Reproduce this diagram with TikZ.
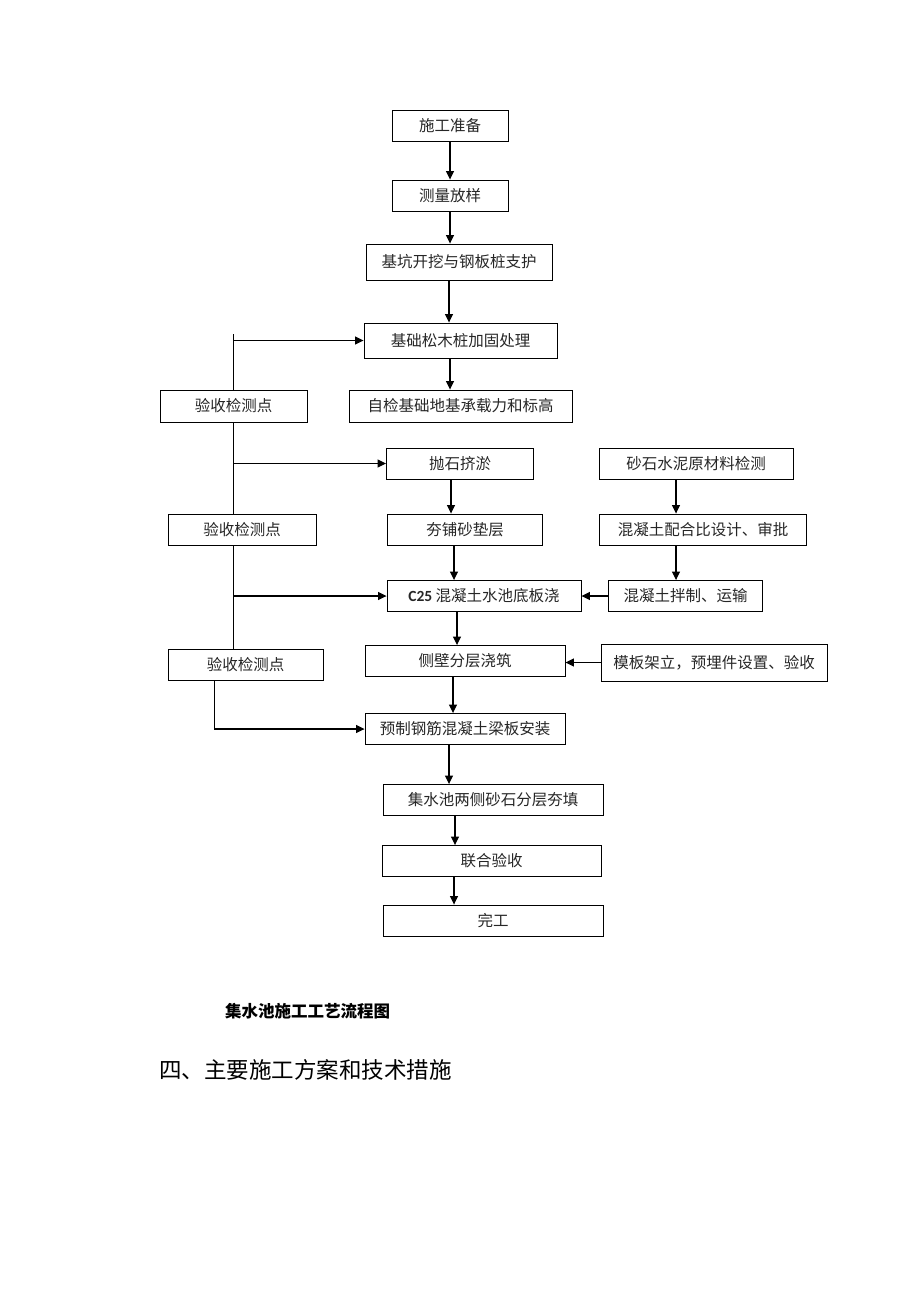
\documentclass[tikz,border=0pt]{standalone}
\usepackage{fontspec}
\setmainfont{Noto Sans CJK SC}
\newfontfamily\latinfont{Carlito}
\usetikzlibrary{arrows.meta}

\begin{document}
\begin{tikzpicture}
[x=1pt,y=-1pt,
  lineDecorate/.style={-,line width=1.1pt},
  arrowDecorate/.style={-{Triangle[length=8.5pt,width=8pt]},line width=1.1pt},
  nodeDecorate/.style={shape=rectangle,draw,line width=0.9pt,inner sep=0pt,text=black!85}]
\useasboundingbox (0,0) rectangle (920,1302);
\fontsize{15.5}{18}\selectfont
%% boxes of the flow chart
\foreach \nodename/\x/\y/\w/\h/\txt in {
  prep/450/125.5/116/31/施工准备,
  survey/450/195.5/116/31/测量放样,
  excav/459/262/186/36/基坑开挖与钢板桩支护,
  pile/460.5/340.5/193/35/基础松木桩加固处理,
  selfchk/460.5/406/223/32/自检基础地基承载力和标高,
  chkA/233.5/406/147/32/验收检测点,
  riprap/460/463.5/147/31/抛石挤淤,
  matchk/696/463.5/194/31/砂石水泥原材料检测,
  chkB/242/529.5/148/31/验收检测点,
  sand/465/529.5/155/31/夯铺砂垫层,
  mixdes/703/529.5/207/31/混凝土配合比设计、审批,
  base/484/596/194/31/{{\latinfont\bfseries C25} 混凝土水池底板浇},
  mixing/685.5/596/154/31/混凝土拌制、运输,
  chkC/245.5/664.5/155/31/验收检测点,
  wall/465/661/200/31/侧壁分层浇筑,
  formwork/714/662.5/226/37/{模板架立，预埋件设置、验收},
  slab/465/729/200/31/预制钢筋混凝土梁板安装,
  backfill/493/800/220/31/集水池两侧砂石分层夯填,
  accept/491.5/861/219/31/联合验收,
  finish/493/920.5/220/31/完工}
{
  \node (\nodename) at (\x,\y) [nodeDecorate,minimum width=\w pt,minimum height=\h pt] {\txt};
}
%% main downward arrows
\path
\foreach \startnode/\endnode/\x in {
  prep/survey/450, survey/excav/450, excav/pile/449, pile/selfchk/450,
  riprap/sand/451, sand/base/454, base/wall/457, wall/slab/453,
  slab/backfill/449, backfill/accept/455, accept/finish/454,
  matchk/mixdes/676, mixdes/mixing/676}
{
  (\startnode.south -| \x,0) edge[arrowDecorate] (\endnode.north -| \x,0)
};
%% side inputs
\path (mixing.west) edge[arrowDecorate] (mixing.west -| base.east)
  (formwork.west) edge[arrowDecorate] (formwork.west -| wall.east);
%% inspection line on the left
\draw[lineDecorate] (chkA.north) -- ++(0,-56);
\draw[lineDecorate] (chkA.south) -- (chkA.south |- chkB.north);
\draw[lineDecorate] (chkA.south |- chkB.south) -- (chkA.south |- chkC.north);
\draw[arrowDecorate] (chkA.north |- pile.west) -- (pile.west);
\draw[arrowDecorate] (chkA.north |- riprap.west) -- (riprap.west);
\draw[arrowDecorate] (chkA.north |- base.west) -- (base.west);
\draw[arrowDecorate] (chkC.south -| 214.5,0) |- (slab.west);
%% caption and heading
\node (title) at (307.5,1011) {\fontsize{16.5}{20}\selectfont\bfseries 集水池施工工艺流程图};
\node (heading) [anchor=west] at (154,1070) {\fontsize{22.5}{27}\selectfont 四、主要施工方案和技术措施};
\end{tikzpicture}
\end{document}
